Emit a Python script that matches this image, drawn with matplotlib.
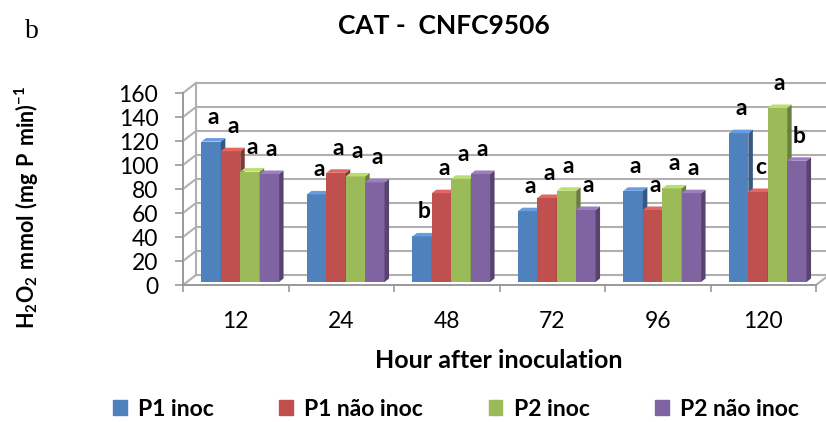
import matplotlib
matplotlib.use("Agg")
import matplotlib.pyplot as plt
from matplotlib.patches import Polygon, Patch
import matplotlib.colors as mcolors
import numpy as np

plt.rcParams['font.family'] = ['Lato', 'DejaVu Sans']
plt.rcParams['mathtext.fontset'] = 'custom'
plt.rcParams['mathtext.rm'] = 'Lato'
plt.rcParams['mathtext.bf'] = 'Lato:bold'

hours = ['12', '24', '48', '72', '96', '120']
series_names = ['P1 inoc', 'P1 não inoc', 'P2 inoc', 'P2 não inoc']
p1_inoc = [117, 73, 38, 59, 76, 124]
p1_nao_inoc = [109, 91, 74, 70, 60, 75]
p2_inoc = [92, 88, 86, 76, 78, 145]
p2_nao_inoc = [90, 83, 90, 60, 74, 101]
letters_p1_inoc = ['a', 'a', 'b', 'a', 'a', 'a']
letters_p1_nao = ['a', 'a', 'a', 'a', 'a', 'c']
letters_p2_inoc = ['a', 'a', 'a', 'a', 'a', 'a']
letters_p2_nao = ['a', 'a', 'a', 'a', 'a', 'b']
yticks = [0, 20, 40, 60, 80, 100, 120, 140, 160]

series = [p1_inoc, p1_nao_inoc, p2_inoc, p2_nao_inoc]
letters = [letters_p1_inoc, letters_p1_nao, letters_p2_inoc, letters_p2_nao]
colors = ['#4F81BD', '#C0504D', '#9BBB59', '#8064A2']

W, H = 826, 422
fig = plt.figure(figsize=(W / 100, H / 100), dpi=100)
px_x = 105.5   # pixels per category
px_y = 1.2     # pixels per unit
ax_left, ax_right, ax_bottom, ax_top = 183, 826, 285, 75
ax = fig.add_axes([ax_left / W, 1 - ax_bottom / H, (ax_right - ax_left) / W, (ax_bottom - ax_top) / H])
ax.set_xlim(0, (ax_right - ax_left) / px_x)
ax.set_ylim(0, (ax_bottom - ax_top) / px_y)
ax.patch.set_alpha(0)

n = len(hours)
# 3D wall offsets (data units)
wdx, wdy = 13 / px_x, 10 / px_y
grid_c = '#b0b0b0'
for v in yticks:
    ax.plot([0, wdx], [v, v + wdy], color=grid_c, lw=1.5, zorder=1, clip_on=False)
    ax.plot([wdx, n + wdx], [v + wdy, v + wdy], color=grid_c, lw=1.5, zorder=1, clip_on=False)
ax.plot([wdx, wdx], [wdy, yticks[-1] + wdy], color=grid_c, lw=1.5, zorder=1)
ax.plot([n, n + wdx], [0, wdy], color=grid_c, lw=1.5, zorder=1, clip_on=False)

# bars
bw = 19.4 / px_x
bdx, bdy = 4.5 / px_x, 3.5 / px_y
base_dx, base_dy = 4.5 / px_x, 3.0 / px_y
z = 3
for gi in range(n):
    center = gi + 0.5 + base_dx
    for si, vals in enumerate(series):
        v = vals[gi]
        x0 = center - 2 * bw + si * bw
        c = colors[si]
        dark = tuple(np.array(mcolors.to_rgb(c)) * 0.68)
        light = tuple(np.clip(np.array(mcolors.to_rgb(c)) * 1.12 + 0.05, 0, 1))
        ax.bar(x0, v, width=bw, bottom=base_dy, align='edge', color=c, zorder=z, lw=0)
        top = base_dy + v
        ax.add_patch(Polygon([(x0 + bw, base_dy), (x0 + bw + bdx, base_dy + bdy),
                              (x0 + bw + bdx, top + bdy), (x0 + bw, top)],
                             closed=True, color=dark, lw=0, zorder=z))
        ax.add_patch(Polygon([(x0, top), (x0 + bw, top), (x0 + bw + bdx, top + bdy),
                              (x0 + bdx, top + bdy)], closed=True, color=light, lw=0, zorder=z))
        ax.annotate(letters[si][gi], (x0 + bw / 2 + bdx / 2, top + bdy), xytext=(0, 10.5),
                    textcoords='offset points', ha='center', va='baseline',
                    fontsize=16.5, fontweight='bold', zorder=20)
        z += 1

# axes styling
for s in ['top', 'right']:
    ax.spines[s].set_visible(False)
ax.spines['left'].set_color('#999999')
ax.spines['bottom'].set_color('#999999')
ax.spines['left'].set_linewidth(1.4)
ax.spines['bottom'].set_linewidth(1.4)
ax.spines['left'].set_bounds(0, yticks[-1])
ax.spines['bottom'].set_bounds(0, n)
ax.set_yticks(yticks)
ax.set_yticklabels([str(t) for t in yticks], fontsize=16.5)
ax.tick_params(axis='y', length=5.8, width=1.2, color='#999999', pad=12)
ax.set_xticks(np.arange(n + 1))
ax.set_xticklabels([])
ax.tick_params(axis='x', which='major', length=5, width=1.2, color='#999999')
ax.set_xticks(np.arange(n) + 0.5, minor=True)
ax.set_xticklabels(hours, minor=True, fontsize=16.5)
ax.tick_params(axis='x', which='minor', length=0, pad=19)

fig.text(444 / W, 1 - 26 / H, 'CAT -  CNFC9506', ha='center', va='center',
         fontsize=19, fontweight='bold')
fig.text(32 / W, 1 - 32 / H, 'b', ha='center', va='center', fontsize=20,
         family=['Liberation Serif'])
fig.text(27 / W, 1 - 207 / H, r'$\mathbf{H_2O_2\ mmol\ (mg\ P\ min)^{-1}}$', rotation=90,
         ha='center', va='center', fontsize=15.5)
fig.text(499 / W, 1 - 361 / H, 'Hour after inoculation', ha='center', va='center',
         fontsize=18, fontweight='bold')

handles = [Patch(color=c) for c in colors]
fig.legend(handles, series_names, loc='center', bbox_to_anchor=(456 / W, 1 - 409 / H),
           ncol=4, frameon=False, handlelength=0.6, handleheight=0.6, handletextpad=0.5,
           columnspacing=2.85, prop={'weight': 'bold', 'size': 16.5})

fig.savefig('out.png', dpi=100)
